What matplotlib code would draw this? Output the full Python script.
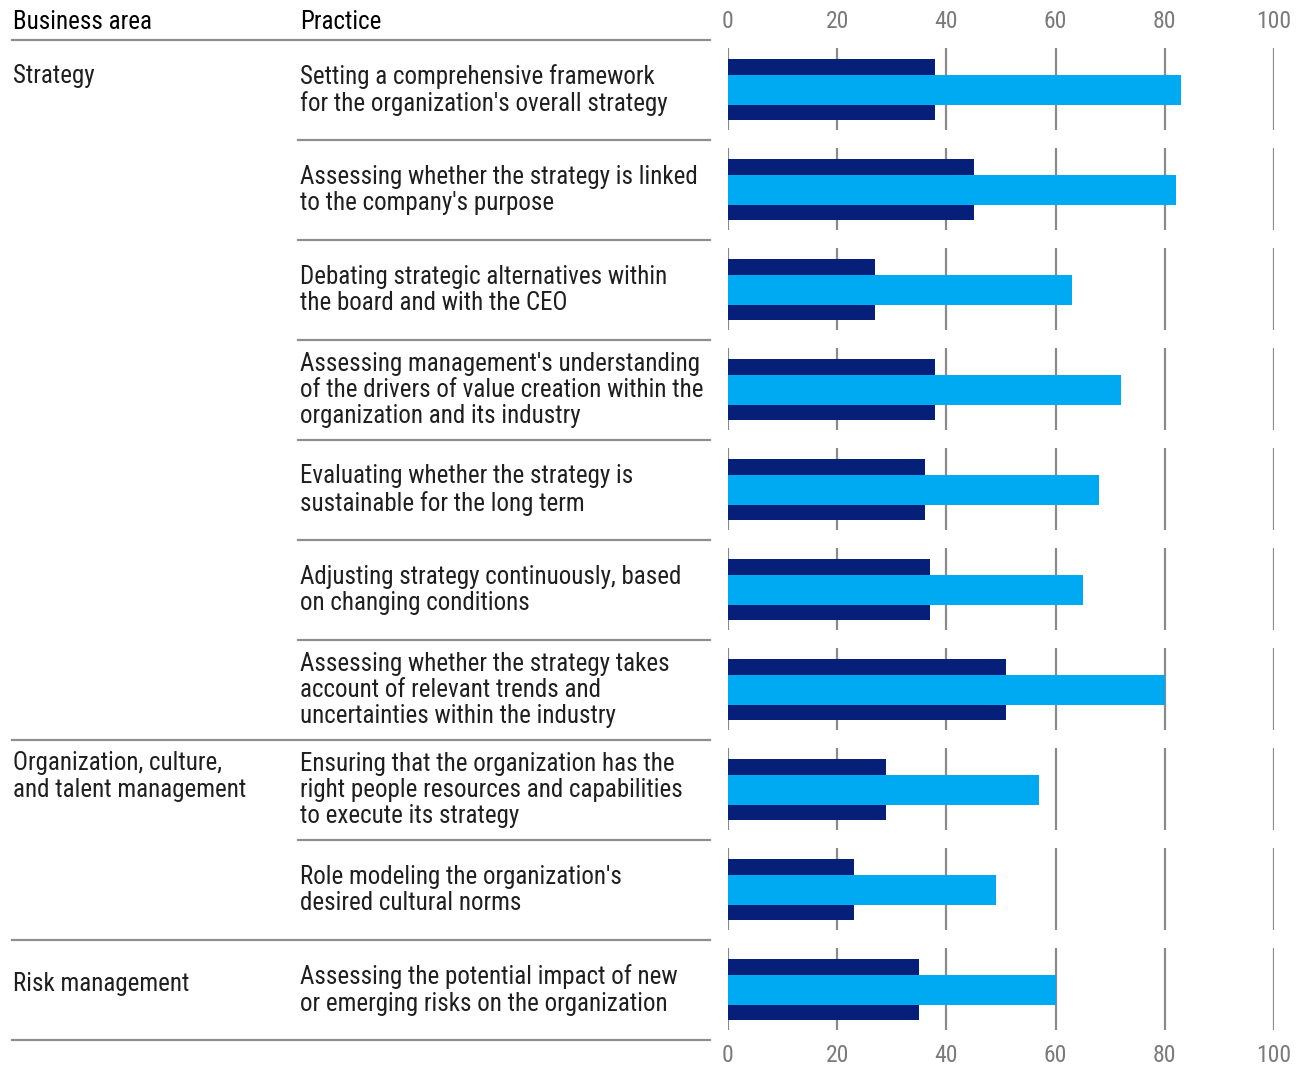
import matplotlib
matplotlib.use("Agg")
import matplotlib.pyplot as plt
from matplotlib import font_manager
import matplotlib.transforms as mtransforms

# ---- data ----
practices = [
    "Setting a comprehensive framework\nfor the organization's overall strategy",
    "Assessing whether the strategy is linked\nto the company's purpose",
    "Debating strategic alternatives within\nthe board and with the CEO",
    "Assessing management's understanding\nof the drivers of value creation within the\norganization and its industry",
    "Evaluating whether the strategy is\nsustainable for the long term",
    "Adjusting strategy continuously, based\non changing conditions",
    "Assessing whether the strategy takes\naccount of relevant trends and\nuncertainties within the industry",
    "Ensuring that the organization has the\nright people resources and capabilities\nto execute its strategy",
    "Role modeling the organization's\ndesired cultural norms",
    "Assessing the potential impact of new\nor emerging risks on the organization",
]
dark_values = [38, 45, 27, 38, 36, 37, 51, 29, 23, 35]
light_values = [83, 82, 63, 72, 68, 65, 80, 57, 49, 60]
business_areas = ["Strategy", "Organization, culture,\nand talent management", "Risk management"]
area_first_row = [0, 7, 9]
x_ticks = [0, 20, 40, 60, 80, 100]

# ---- fonts ----
available = {f.name for f in font_manager.fontManager.ttflist}
family = [f for f in ["Roboto Condensed", "Liberation Sans Narrow", "Liberation Sans", "DejaVu Sans"] if f in available]
plt.rcParams["font.family"] = family

DARK = "#061f79"
LIGHT = "#00aaf2"
TEXT = "#1f1f1f"
GRID = "#8a8a8a"
RULE = "#8f8f8f"
FS = 18
LS = 1.12
STEP = 0.27  # line step in row units (27 px per line, 100 px per row)

W, H = 1301, 1066
fig = plt.figure(figsize=(W / 100, H / 100), dpi=100)
# bar axes: x 0..100 -> px 728..1274, rows from y 40 to 1040
ax = fig.add_axes([728 / W, 1 - 1040 / H, (1274 - 728) / W, 1000 / H])
n = len(practices)
ax.set_xlim(0, 100)
ax.set_ylim(n - 0.5, -0.5)
ax.axis("off")

rows = list(range(n))
# gridlines per row
for r in rows:
    ax.vlines(x_ticks, r - 0.42, r + 0.4, color=GRID, lw=1.6, zorder=1)
ax.barh(rows, dark_values, height=0.61, color=DARK, zorder=2)
ax.barh(rows, light_values, height=0.30, color=LIGHT, zorder=3)

# tick labels top and bottom
for t in x_ticks:
    ax.text(t, -0.68, str(t), ha="center", va="center", fontsize=17, color="#7a7a7a")
    ax.text(t, n - 0.5 + 0.15, str(t), ha="center", va="center", fontsize=17, color="#7a7a7a")

tr = mtransforms.blended_transform_factory(fig.transFigure, ax.transData)

# headers
ax.text(13 / W, -0.68, "Business area", transform=tr, ha="left", va="center",
        fontsize=FS, color="#000000")
ax.text(300 / W, -0.68, "Practice", transform=tr, ha="left", va="center",
        fontsize=FS, color="#000000")

# practice texts
for r, p in zip(rows, practices):
    ax.text(300 / W, r, p, transform=tr, ha="left", va="center",
            fontsize=FS, color=TEXT, linespacing=LS)

# business area texts, first line aligned with first line of the practice
for area, r in zip(business_areas, area_first_row):
    nlines_p = practices[r].count("\n") + 1
    first_line = r - (nlines_p - 1) * STEP / 2
    nl_a = area.count("\n") + 1
    y_center = first_line + (nl_a - 1) * STEP / 2
    if r == n - 1:
        y_center = r - 0.06
    ax.text(13 / W, y_center, area, transform=tr, ha="left", va="center",
            fontsize=FS, color=TEXT, linespacing=LS)

# horizontal rules
group_starts = set(area_first_row)
ax.plot([12 / W, 710 / W], [-0.5, -0.5], transform=tr, color=RULE, lw=1.6, clip_on=False)
for r in range(1, n + 1):
    x0 = 12 / W if (r in group_starts or r == n) else 298 / W
    ax.plot([x0, 710 / W], [r - 0.5, r - 0.5], transform=tr, color=RULE, lw=1.6, clip_on=False)

fig.savefig("out.png", dpi=100, facecolor="white")
